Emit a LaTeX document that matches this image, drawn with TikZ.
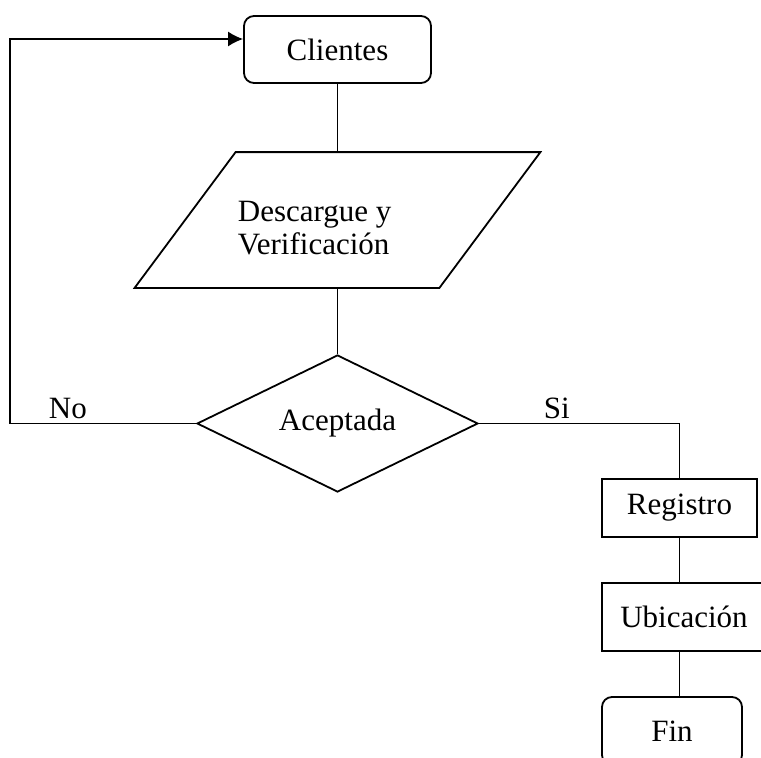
\documentclass[tikz,border=0pt]{standalone}
\usepackage{fontspec}
\setmainfont{Liberation Serif}
\usetikzlibrary{shapes.geometric,arrows.meta}

\begin{document}
\begin{tikzpicture}[x=1pt, y=-1pt, line width=1.8pt,
  font=\fontsize{31}{33}\selectfont,
  endbox/.style={draw, rounded corners=10pt, minimum width=187pt, minimum height=67pt, inner sep=0pt},
  stepbox/.style={draw, minimum width=155pt, minimum height=58pt, inner sep=0pt},
  io/.style={minimum width=303pt, minimum height=134pt, inner sep=0pt},
  decision/.style={draw, diamond, aspect=2, minimum width=281pt, minimum height=137pt, inner sep=0pt},
  tag/.style={anchor=base west, inner sep=0pt},
]
\useasboundingbox (0,0) rectangle (761,758);

% Main column
\node[endbox] (clientes) at (337.5,49.5) {Clientes};
\node[io] (descargue) at (337.5,220) {};
\draw ([xshift=50.5pt]descargue.north west) -- ([xshift=50.5pt]descargue.north east)
  -- ([xshift=-50.5pt]descargue.south east) -- ([xshift=-50.5pt]descargue.south west) -- cycle;
\node[anchor=west, align=left, inner sep=0pt] (descarguetxt) at (237,228) {Descargue y\\Verificación};
\node[decision] (aceptada) at (337.5,423.5) {\raisebox{5pt}{Aceptada}};

% Si branch
\node[stepbox] (registro) at (679.5,508) {Registro};
\node[stepbox, minimum width=164pt, minimum height=68pt] (ubicacion) at (684,617) {Ubicación};
\node[endbox, minimum width=140pt, minimum height=68pt] (fin) at (672,731) {Fin};

% Branch labels
\node[tag] (no) at (48,418) {No};
\node[tag] (si) at (543,418) {Si};

% Connectors
\coordinate (corner) at (10,39);
\draw (clientes.south) -- (descargue.north);
\draw (descargue.south) -- (aceptada.north);
\draw[-{Latex[length=15pt,width=15pt]}] (aceptada.west) -| (corner) -- ([yshift=10.5pt]clientes.west);
\draw (aceptada.east) -| (registro.north);
\draw (registro.south) -- (registro.south |- ubicacion.north);
\draw (registro.south |- ubicacion.south) -- (registro.south |- fin.north);

\end{tikzpicture}
\end{document}
